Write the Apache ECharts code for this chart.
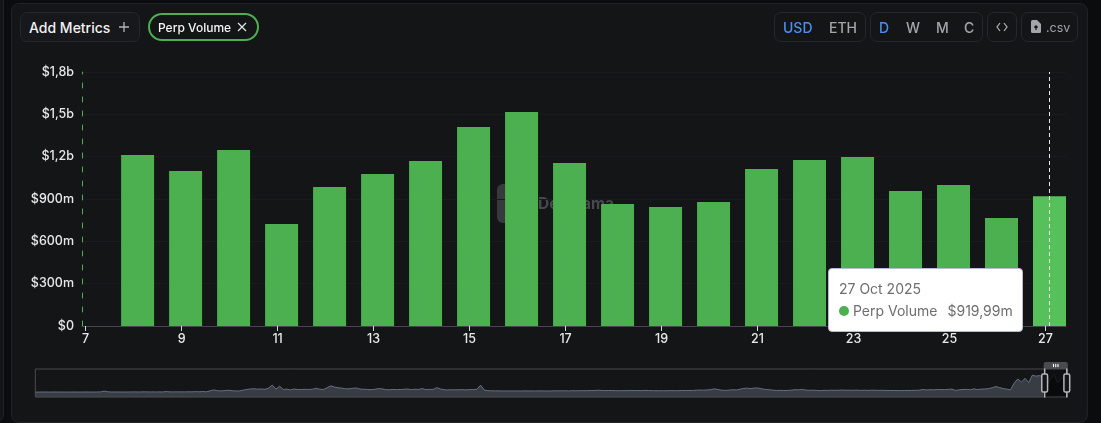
<!DOCTYPE html>
<html>
<head>
<meta charset="utf-8">
<title>Perp Volume</title>
<script src="https://cdn.jsdelivr.net/npm/echarts@6/dist/echarts.min.js"></script>
<style>
  html, body { margin: 0; padding: 0; width: 1101px; height: 423px; overflow: hidden; background: #0b0c0e; font-family: Inter, "Noto Sans", sans-serif; }
  .side { position: absolute; left: -10px; top: -10px; width: 12px; height: 430px; background: #141517; border: 1px solid #202227; border-radius: 8px; }
  .card { position: absolute; left: 11px; top: 3px; width: 1075px; height: 418px; background: #141517; border: 1px solid #202227; border-radius: 8px; }
  #chart { position: absolute; left: 0; top: 0; width: 1101px; height: 423px; }
  .box { position: absolute; box-sizing: border-box; top: 12px; height: 30px; border: 1px solid #25272c; border-radius: 7px; display: flex; align-items: center; white-space: nowrap; color: #a3a5a8; }
  .box span { position: absolute; top: 6px; line-height: 17px; font-size: 14px; font-weight: 500; }
  .on { color: #4a90f0; }
  .add { left: 20px; width: 120px; background: #17181b; color: #f2f2f2; }
  .chip { left: 148px; top: 13px; width: 111px; height: 28px; border: 2px solid #4caf50; border-radius: 14px; color: #f5f5f5; }
  svg { position: absolute; }
</style>
</head>
<body>
<div class="side"></div>
<div class="card"></div>
<div id="chart"></div>

<div class="box add"><span style="left:8px;font-size:14px">Add Metrics</span>
  <svg style="left:97px;top:8px" width="12" height="12" viewBox="0 0 12 12"><path d="M6 1v10M1 6h10" stroke="#b5b5b5" stroke-width="1.3"/></svg></div>
<div class="box chip"><span style="left:8px;top:4px;font-size:12px">Perp Volume</span>
  <svg style="left:87px;top:7px" width="10" height="10" viewBox="0 0 10 10"><path d="M1 1l8 8M9 1l-8 8" stroke="#e6e6e6" stroke-width="1.2"/></svg></div>
<div class="box" style="left:774px;width:92px"><span class="on" style="left:8px">USD</span><span style="left:54px">ETH</span></div>
<div class="box" style="left:870px;width:113px"><span class="on" style="left:8px">D</span><span style="left:35px">W</span><span style="left:65px">M</span><span style="left:93px">C</span></div>
<div class="box" style="left:987px;width:30px">
  <svg style="left:8px;top:9px" width="12" height="10" viewBox="0 0 12 10"><path d="M4 1L1 5l3 4M8 1l3 4-3 4" fill="none" stroke="#b5b5b5" stroke-width="1.2"/></svg></div>
<div class="box" style="left:1021px;width:57px">
  <svg style="left:9px;top:7px" width="10" height="13" viewBox="0 0 10 13"><path d="M0 1.5Q0 0 1.5 0H6L10 4v7.500Q10 13 8.500 13H1.500Q0 13 0 11.500Z" fill="#a3a5a8"/><path d="M5 10V6M3.300 7.500L5 5.800l1.700 1.700" fill="none" stroke="#141517" stroke-width="1.200"/></svg>
  <span style="left:24px;font-size:12.500px;font-weight:400;top:6px">.csv</span></div>

<script>
// Daily perp volume for the visible window, USD millions.
const dayStamps = ['2025-10-08','2025-10-09','2025-10-10','2025-10-11','2025-10-12','2025-10-13','2025-10-14','2025-10-15','2025-10-16','2025-10-17','2025-10-18','2025-10-19','2025-10-20','2025-10-21','2025-10-22','2025-10-23','2025-10-24','2025-10-25','2025-10-26','2025-10-27'];
const dailyVolume = [1212,1098,1247,723,985,1077,1169,1410,1516,1155,865,843,879,1113,1176,1198,957,999,765,919.99];

// Older volume at three-day steps, ending 4 Oct 2025, used by the range slider.
const olderVolume = [
  18,15,18,22,15,18,20,16,18,15,
  20,18,16,18,22,18,16,20,30,95,
  35,22,20,25,18,20,22,30,22,25,
  35,25,28,22,30,26,55,30,28,35,
  28,30,40,32,50,35,60,35,120,190,
  130,110,135,170,130,105,110,170,230,270,
  290,250,270,240,350,590,260,500,230,260,
  190,270,220,230,240,230,250,330,250,220,
  380,530,430,370,340,290,280,330,350,260,
  250,230,210,240,300,280,220,200,240,210,
  230,240,270,210,250,230,300,220,240,230,
  380,270,210,190,210,200,210,220,190,230,
  220,250,590,180,130,120,110,115,105,110,
  100,110,105,100,115,105,110,100,115,110,
  105,100,115,120,110,125,110,130,120,125,
  130,125,140,135,170,150,135,145,140,130,
  125,135,130,150,135,140,130,160,140,130,
  125,130,120,125,135,130,125,150,135,145,
  150,170,180,175,190,220,280,220,170,150,
  180,210,190,250,320,340,290,360,340,280,
  230,210,170,150,160,140,150,170,210,200,
  230,180,160,170,150,130,160,150,170,160,
  170,180,165,170,160,180,150,170,155,170,
  165,155,160,150,140,150,140,135,150,145,
  150,160,170,230,190,210,200,230,210,220,
  240,260,150,200,230,240,200,280,220,260,
  270,300,370,470,390,300,260,200,750,1100,
  850,1150,800,1420,1330,1380
];

const yTickLabels = ['$0','$300m','$600m','$900m','$1,2b','$1,5b','$1,8b'];
const monthNames = ['Jan','Feb','Mar','Apr','May','Jun','Jul','Aug','Sep','Oct','Nov','Dec'];

const DAY = 86400000;
const BAR_SHIFT = 2 * 3600000;              // daily buckets sit two hours after midnight
const lastOlder = Date.UTC(2025, 9, 4);
const olderRows = olderVolume.map((v, i) => [lastOlder - (olderVolume.length - 1 - i) * 3 * DAY, v]);
const dailyRows = dayStamps.map((d, i) => [Date.parse(d + 'T00:00:00Z') + BAR_SHIFT, dailyVolume[i]]);
const rows = olderRows.concat(dailyRows);

// The bar layout pads the time scale by half a bar on each side of this window.
const windowStart = Date.UTC(2025, 9, 7, 6, 27);
const windowEnd = Date.UTC(2025, 9, 27, 2, 0);

const chart = echarts.init(document.getElementById('chart'), null, { renderer: 'canvas' });
chart.setOption({
  animation: false,
  useUTC: true,
  backgroundColor: 'transparent',
  textStyle: { fontFamily: 'Inter, "Noto Sans", sans-serif' },
  grid: { left: 82, top: 72, width: 984, height: 254, containLabel: false },
  xAxis: {
    type: 'time',
    minInterval: 2 * DAY,
    maxInterval: 2 * DAY,
    axisLine: { show: true, lineStyle: { color: '#45474b', width: 1 } },
    axisTick: { show: true, length: 5, lineStyle: { color: '#d8d8d8', width: 1 } },
    axisLabel: {
      color: '#e8e8e8', fontSize: 12.5, fontWeight: 500, margin: 7, hideOverlap: false,
      showMinLabel: false, showMaxLabel: false,
      formatter: v => String(new Date(v).getUTCDate())
    },
    splitLine: { show: false }
  },
  yAxis: {
    type: 'value', min: 0, max: 1800, interval: 300,
    axisLine: { show: true, lineStyle: { color: '#4caf50', type: [5, 9], width: 1 } },
    axisTick: { show: false },
    axisLabel: { color: '#e8e8e8', fontSize: 12.5, fontWeight: 500, margin: 8, formatter: v => yTickLabels[v / 300] },
    splitLine: { lineStyle: { color: '#191b1e', width: 1 } }
  },
  tooltip: {
    trigger: 'axis',
    alwaysShowContent: true,
    transitionDuration: 0,
    backgroundColor: '#ffffff',
    borderColor: '#b8bcc4',
    borderWidth: 1,
    padding: 0,
    extraCssText: 'border-radius:4px;box-shadow:none;',
    position: () => [828, 268],
    axisPointer: { type: 'line', snap: true, label: { show: false }, lineStyle: { color: '#e8e8e8', type: [4, 3], width: 1 } },
    formatter: params => {
      const p = params[0];
      const d = new Date(p.value[0]);
      const amount = '$' + p.value[1].toFixed(2).replace('.', ',') + 'm';
      return '<div style="box-sizing:border-box;width:193px;height:62px;padding:9px 10px 0 10px;font:14px/22px Inter,sans-serif;color:#6e6e6e">' +
        '<div style="height:22px">' + d.getUTCDate() + ' ' + monthNames[d.getUTCMonth()] + ' ' + d.getUTCFullYear() + '</div>' +
        '<div style="white-space:nowrap"><span style="display:inline-block;width:10px;height:10px;border-radius:50%;background:#4caf50;margin-right:4px"></span>' +
        'Perp Volume<span style="margin-left:10px">' + amount + '</span></div></div>';
    }
  },
  dataZoom: [{
    type: 'slider',
    xAxisIndex: 0,
    filterMode: 'filter',
    startValue: windowStart,
    endValue: windowEnd,
    left: 32, width: 1033, top: 362, height: 29,
    showDetail: false,
    borderColor: '#4a4b4e',
    borderRadius: 0,
    backgroundColor: 'transparent',
    fillerColor: 'rgba(0,0,0,0.25)',
    handleStyle: { color: '#141517', borderColor: '#b4b6b9', borderWidth: 1.5 },
    moveHandleSize: 7,
    moveHandleStyle: { color: '#4a4b4e', opacity: 1 },
    dataBackground: {
      lineStyle: { color: '#666f87', width: 1, opacity: 1 },
      areaStyle: { color: '#383c43', opacity: 1 }
    },
    selectedDataBackground: {
      lineStyle: { color: '#26282c', width: 1, opacity: 1 },
      areaStyle: { color: '#0d0e0f', opacity: 1 }
    },
    emphasis: { handleStyle: { borderColor: '#b4b6b9' }, moveHandleStyle: { color: '#4a4b4e' } }
  }],
  graphic: [
    { type: 'rect', z: -1, left: 497, top: 184, shape: { width: 38, height: 39, r: 6 }, style: { fill: '#37393c' } },
    { type: 'text', z: -1, left: 538, top: 196, style: { text: 'DefiLlama', fill: '#46484b', font: 'bold 15.500px Inter, sans-serif' } }
  ],
  series: [{
    name: 'Perp Volume',
    type: 'bar',
    barWidth: 33,
    data: rows,
    itemStyle: { color: '#4caf50' },
    emphasis: { itemStyle: { color: '#56c15a' } }
  }]
});

// Keep the latest day's readout open.
chart.dispatchAction({ type: 'showTip', seriesIndex: 0, dataIndex: rows.length - 1 });
</script>
</body>
</html>
